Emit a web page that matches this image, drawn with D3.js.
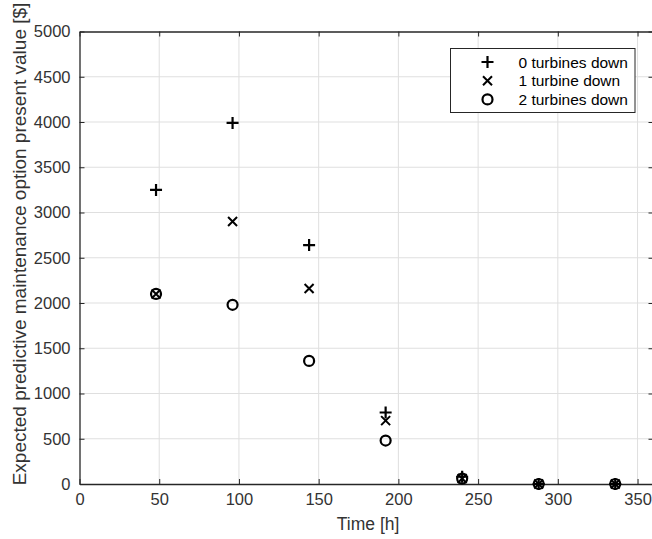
<!DOCTYPE html>
<html>
<head>
<meta charset="utf-8">
<script src="https://cdn.jsdelivr.net/npm/d3@7"></script>
<style>
  body { margin: 0; background: #fff; }
  text { font-family: "Liberation Sans", Arial, sans-serif; }
</style>
</head>
<body>
<svg width="652" height="539"></svg>
<script>
var times = [48, 96, 144, 192, 240, 288, 336];
var down0 = [3250, 3990, 2640, 790, 80, 0, 0];
var down1 = [2100, 2900, 2160, 700, 60, 0, 0];
var down2 = [2100, 1980, 1360, 480, 60, 0, 0];
var xTicks = [0, 50, 100, 150, 200, 250, 300, 350];
var yTicks = [0, 500, 1000, 1500, 2000, 2500, 3000, 3500, 4000, 4500, 5000];
var legendLabels = ["0 turbines down", "1 turbine down", "2 turbines down"];

var svg = d3.select("svg"),
    margin = {left: 79.5, top: 31.5, right: 0, bottom: 55},
    width = 653.5 - margin.left,
    height = 484 - margin.top,
    g = svg.append("g").attr("transform", "translate(" + margin.left + "," + margin.top + ")");

var x = d3.scaleLinear().domain([0, 360]).range([0, width]);
var y = d3.scaleLinear().domain([0, 5000]).range([height, 0]);

// grid
g.selectAll(".gx").data(xTicks.slice(1)).enter().append("line")
    .attr("x1", d => x(d)).attr("x2", d => x(d))
    .attr("y1", 0).attr("y2", height)
    .attr("stroke", "#dfdfdf").attr("stroke-width", 1);
g.selectAll(".gy").data(yTicks.slice(1, -1)).enter().append("line")
    .attr("y1", d => y(d)).attr("y2", d => y(d))
    .attr("x1", 0).attr("x2", width)
    .attr("stroke", "#dfdfdf").attr("stroke-width", 1);

// axes
var fmt = d3.format("d");
g.append("g").attr("transform", "translate(0," + height + ")")
    .call(d3.axisBottom(x).tickValues(xTicks).tickFormat(fmt).tickSizeInner(-5).tickSizeOuter(0).tickPadding(9));
g.append("g")
    .call(d3.axisLeft(y).tickValues(yTicks).tickFormat(fmt).tickSizeInner(-5).tickSizeOuter(0).tickPadding(9));
g.append("g").call(d3.axisTop(x).tickValues(xTicks).tickSizeInner(-5).tickSizeOuter(0).tickFormat(""));
g.append("g").attr("transform", "translate(" + width + ",0)")
    .call(d3.axisRight(y).tickValues(yTicks).tickSizeInner(-5).tickSizeOuter(0).tickFormat(""));
g.selectAll(".domain").attr("stroke", "#262626").attr("stroke-width", 1.3);
g.selectAll(".tick line").attr("stroke", "#262626");
g.selectAll(".tick text").attr("fill", "#333").style("font-size", "16.5px");

// markers
function plus(sel) {
  sel.append("path").attr("d", "M-6,0H6M0,-6V6")
    .attr("stroke", "#000").attr("stroke-width", 2.2).attr("fill", "none");
}
function cross(sel) {
  sel.append("path").attr("d", "M-4.5,-4.5L4.5,4.5M-4.5,4.5L4.5,-4.5")
    .attr("stroke", "#000").attr("stroke-width", 2).attr("fill", "none");
}
function circ(sel) {
  sel.append("circle").attr("r", 5)
    .attr("stroke", "#000").attr("stroke-width", 2.2).attr("fill", "none");
}
var series = [down0, down1, down2], shapes = [plus, cross, circ];
series.forEach(function(vals, i) {
  g.selectAll(".s" + i).data(times).enter().append("g")
    .attr("transform", (d, j) => "translate(" + x(d) + "," + y(vals[j]) + ")")
    .each(function() { shapes[i](d3.select(this)); });
});

// legend
var lg = svg.append("g").attr("transform", "translate(450.5,48.5)");
lg.append("rect").attr("width", 184.5).attr("height", 64)
  .attr("fill", "#fff").attr("stroke", "#262626").attr("stroke-width", 1);
legendLabels.forEach(function(lab, i) {
  var row = lg.append("g").attr("transform", "translate(37," + (13.5 + i * 18.7) + ")");
  shapes[i](row);
  row.append("text").attr("x", 31).attr("y", 5.5).style("font-size", "15.5px")
    .attr("fill", "#000").text(lab);
});

// labels
svg.append("text").attr("x", margin.left + x(181)).attr("y", 530)
  .attr("text-anchor", "middle").style("font-size", "17.5px").attr("fill", "#333").text("Time [h]");
svg.append("text").attr("transform", "translate(26," + 244 + ") rotate(-90)")
  .attr("text-anchor", "middle").style("font-size", "19px").attr("fill", "#333")
  .text("Expected predictive maintenance option present value [$]");
</script>
</body>
</html>
